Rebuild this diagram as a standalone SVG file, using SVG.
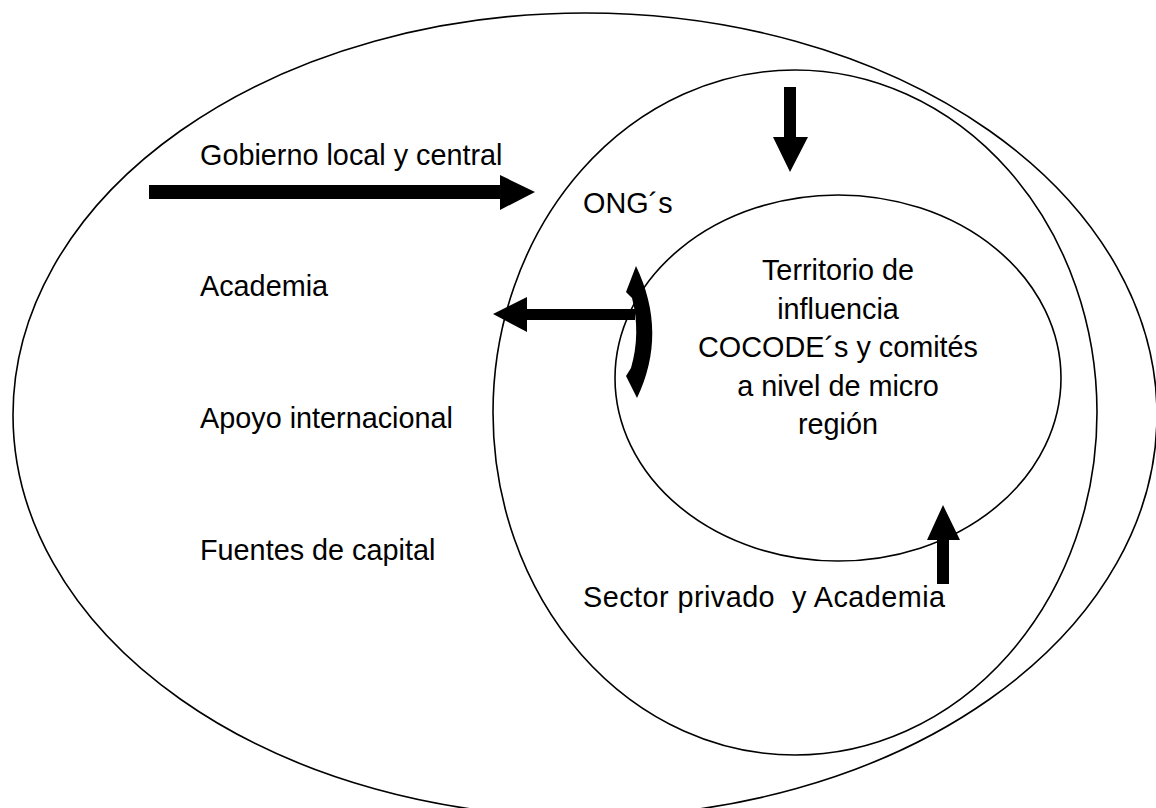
<svg xmlns="http://www.w3.org/2000/svg" width="1156" height="808" viewBox="0 0 1156 808">
<style>
.ring{fill:none;stroke:#000;stroke-width:1.6}
.arrow{fill:#000;stroke:none}
.t{font-family:"Liberation Sans",Arial,sans-serif;font-size:28.8px;fill:#000;white-space:pre}
.c{text-anchor:middle}
</style>
<rect width="1156" height="808" fill="#fff"/>
<g id="outer">
<ellipse class="ring" cx="585" cy="415" rx="572" ry="402"/>
<text class="t" x="200" y="165">Gobierno local y central</text>
<text class="t" x="200" y="296">Academia</text>
<text class="t" x="200" y="428">Apoyo internacional</text>
<text class="t" x="200" y="560">Fuentes de capital</text>
</g>
<g id="middle">
<ellipse class="ring" cx="795" cy="412.5" rx="302" ry="342.5"/>
<text class="t" x="583" y="213">ONG´s</text>
<text class="t" x="583" y="607" xml:space="preserve" textLength="362" lengthAdjust="spacing">Sector privado  y Academia</text>
</g>
<g id="inner">
<ellipse class="ring" cx="838" cy="378" rx="223" ry="183"/>
<text class="t c" x="838" y="280">Territorio de</text>
<text class="t c" x="838" y="318.5">influencia</text>
<text class="t c" x="838" y="357">COCODE´s y comités</text>
<text class="t c" x="838" y="395.5">a nivel de micro</text>
<text class="t c" x="838" y="434">región</text>
</g>
<g id="connectors">
<path class="arrow" d="M149,185 L500,185 L500,175 L535,192 L500,210 L500,199 L149,199 Z"/>
<path class="arrow" d="M784,87 L796,87 L796,137 L808,137 L790,172 L773,137 L784,137 Z"/>
<path class="arrow" d="M937,584 L949,584 L949,540 L960,540 L943,505 L927,540 L937,540 Z"/>
<path class="arrow" d="M635,309 L527,309 L527,297 L493,314 L527,332 L527,320 L635,320 Z"/>
<path class="arrow" d="M636,266 Q668,333 637,398 L626,376 L631,368 Q641,333 632,298 L626,292 Z"/>
</g>
</svg>
